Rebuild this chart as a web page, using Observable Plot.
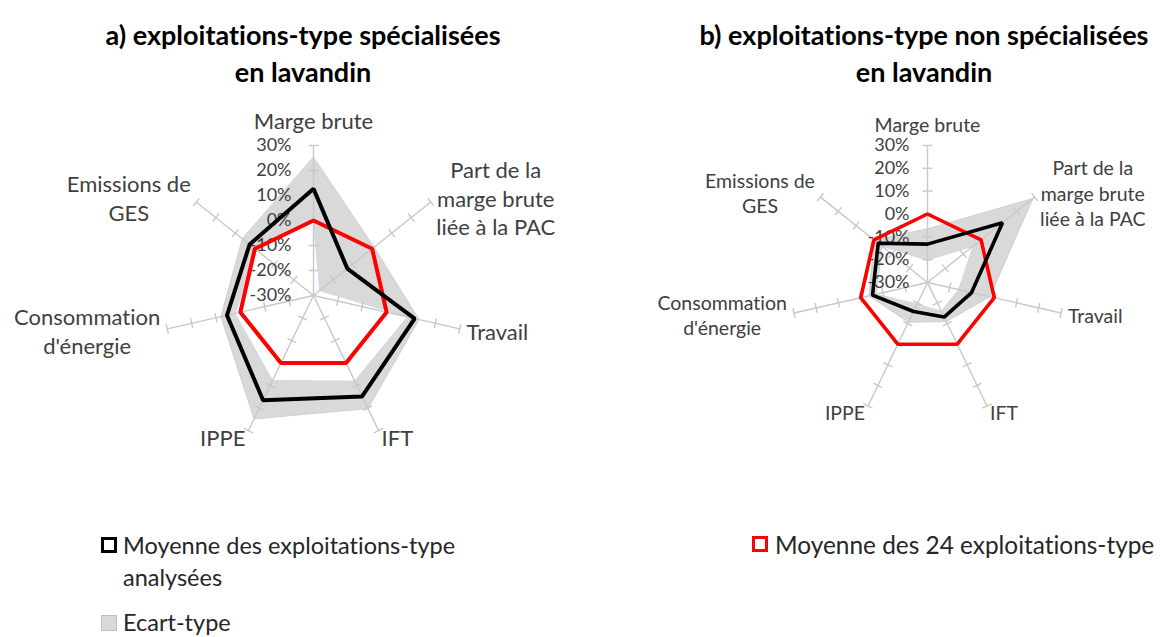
<!DOCTYPE html>
<html><head><meta charset="utf-8">
<script src="https://cdn.jsdelivr.net/npm/d3@7"></script>
<script src="https://cdn.jsdelivr.net/npm/@observablehq/plot@0.6"></script>
<style>
body{margin:0;background:#fff;}
#page{position:relative;width:1160px;height:637px;font-family:Lato,"Open Sans",sans-serif;color:#262626;overflow:hidden;font-variant-ligatures:none;}
.title{position:absolute;width:640px;text-align:center;font-weight:bold;font-size:27px;line-height:37px;color:#000;}
.chart{position:absolute;top:100px;}
.leg{position:absolute;font-size:24px;line-height:32px;color:#262626;white-space:nowrap;}
.sw{position:absolute;box-sizing:border-box;width:16px;height:16px;}
</style></head><body><div id="page"></div>
<script>
// ---- data ----
const categories = ["Marge brute", "Part de la\nmarge brute\nliée à la PAC", "Travail", "IFT", "IPPE", "Consommation\nd'énergie", "Emissions de\nGES"];
const tickValues = [-30, -20, -10, 0, 10, 20, 30];
const tickLabels = ["-30%", "-20%", "-10%", "0%", "10%", "20%", "30%"];
// a) spécialisées
const meanA  = [12.7, -12.7, 11.5, 14.8, 16.5, 5.5, 2.7];
const upperA = [25.3, 1.0, 13.3, 20.2, 24.8, 8.0, 6.4];
const lowerA = [0.0, -26.8, 8.5, 8.0, 7.8, 2.2, -1.0];
// b) non spécialisées
const meanB  = [-13.2, 12.0, -10.2, -13.2, -15.9, -5.3, -2.4];
const upperB = [-6.5, 29.0, -2.0, -11.0, -10.7, -3.7, -0.2];
const lowerB = [-20.2, -4.5, -16.0, -16.0, -19.5, -7.0, -4.6];
// reference: moyenne des 24 exploitations-type
const refAll = [0, 0, 0, 0, 0, 0, 0];

const titleA = "a) exploitations-type spécialisées\nen lavandin";
const titleB = "b) exploitations-type non spécialisées\nen lavandin";
const legendMean = "Moyenne des exploitations-type\nanalysées";
const legendSd = "Ecart-type";
const legendRef = "Moyenne des 24 exploitations-type";

const FONT = "Lato";
const canvas = document.createElement("canvas");
const ctx = canvas.getContext("2d");
function textWidth(s, size) {
  ctx.font = `${size}px ${FONT}`;
  return d3.max(s.split("\n"), l => ctx.measureText(l).width);
}

function radar(o) {
  const n = categories.length;
  const rMin = d3.min(tickValues), rMax = d3.max(tickValues);
  const ang = i => i * 2 * Math.PI / n;
  const px = (v, i) => (v - rMin) * Math.sin(ang(i));
  const py = (v, i) => (v - rMin) * Math.cos(ang(i));
  const poly = vals => vals.map((v, i) => ({x: px(v, i), y: py(v, i)}));
  const k = o.k;
  const axes = categories.map((c, i) => ({x1: 0, y1: 0, x2: px(rMax, i), y2: py(rMax, i)}));
  const half = o.tickHalf / k;
  const tks = [];
  categories.forEach((c, i) => {
    const a = ang(i), cxp = Math.cos(a), syp = -Math.sin(a);
    tickValues.filter(t => t > rMin).forEach(t => {
      const x = px(t, i), y = py(t, i);
      tks.push({x1: x - half * cxp, y1: y - half * syp, x2: x + half * cxp, y2: y + half * syp});
    });
  });
  const labs = categories.map((c, i) => {
    const a = ang(i), s = Math.sin(a);
    const top = Math.abs(s) < 0.1;
    const pad = (top ? o.topPad : o.labPad) / k;
    const r = rMax - rMin + pad;
    const w = textWidth(c, o.fs);
    return {x: r * s, y: r * Math.cos(a), text: c,
            dx: top ? 0 : (s > 0 ? w / 2 : -w / 2)};
  });
  const tickData = tickValues.map((t, j) => ({x: 0, y: t - rMin, text: tickLabels[j]}));
  return Plot.plot({
    width: o.w, height: o.h, margin: 0,
    style: {fontFamily: FONT, background: "transparent", overflow: "visible"},
    x: {domain: [-o.cx / k, (o.w - o.cx) / k], axis: null},
    y: {domain: [-(o.h - o.cy) / k, o.cy / k], axis: null},
    marks: [
      Plot.line(poly(o.upper), {x: "x", y: "y", curve: "linear-closed", fill: "#d9d9d9", stroke: "#cfcfcf", strokeWidth: 1}),
      Plot.line(poly(o.lower), {x: "x", y: "y", curve: "linear-closed", fill: "#ffffff", stroke: "#c6d9f0", strokeWidth: 1}),
      Plot.link(axes, {x1: "x1", y1: "y1", x2: "x2", y2: "y2", stroke: "#c8c8c8", strokeWidth: 1.4}),
      Plot.link(tks, {x1: "x1", y1: "y1", x2: "x2", y2: "y2", stroke: "#c8c8c8", strokeWidth: 1.4}),
      Plot.text(tickData, {x: "x", y: "y", text: "text", textAnchor: "end", dx: o.tickDx, fontSize: o.tfs, fill: "#404040"}),
      ...labs.map(l => Plot.text([l], {x: "x", y: "y", text: "text", dx: l.dx, textAnchor: "middle", lineAnchor: "middle", lineHeight: o.lh, fontSize: o.fs, fill: "#404040"})),
      Plot.line(poly(o.ref), {x: "x", y: "y", curve: "linear-closed", stroke: "#ff0000", strokeWidth: o.sw, strokeLinejoin: "miter"}),
      Plot.line(poly(o.mean), {x: "x", y: "y", curve: "linear-closed", stroke: "#000000", strokeWidth: o.sw, strokeLinejoin: "miter"})
    ]
  });
}

const page = document.getElementById("page");
function addTitle(text, center) {
  const d = document.createElement("div");
  d.className = "title";
  d.style.left = (center - 320) + "px";
  d.style.top = "16px";
  d.innerHTML = text.split("\n").join("<br>");
  page.appendChild(d);
}
addTitle(titleA, 303);
addTitle(titleB, 924);

const cA = radar({mean: meanA, upper: upperA, lower: lowerA, ref: refAll, k: 150 / 60,
  cx: 313, cy: 195, w: 580, h: 380, fs: 22, tfs: 18, lh: 1.3, tickDx: -22, tickHalf: 5, labPad: 7, topPad: 26, sw: 4});
cA.classList.add("chart"); cA.style.left = "0px";
page.appendChild(cA);
const cB = radar({mean: meanB, upper: upperB, lower: lowerB, ref: refAll, k: 137 / 60,
  cx: 347, cy: 182, w: 580, h: 380, fs: 19.5, tfs: 18, lh: 1.3, tickDx: -18, tickHalf: 5, labPad: 7, topPad: 22, sw: 3.6});
cB.classList.add("chart"); cB.style.left = "580px";
page.appendChild(cB);

function addLegend(swLeft, swTop, swStyle, text, textLeft, textTop, size) {
  const s = document.createElement("div");
  s.className = "sw";
  s.style.left = swLeft + "px"; s.style.top = swTop + "px";
  Object.assign(s.style, swStyle);
  page.appendChild(s);
  const t = document.createElement("div");
  t.className = "leg";
  t.style.left = textLeft + "px"; t.style.top = textTop + "px";
  t.style.fontSize = size + "px";
  t.innerHTML = text.split("\n").join("<br>");
  page.appendChild(t);
}
addLegend(101, 537, {border: "3px solid #000"}, legendMean, 123, 529, 23.5);
addLegend(101, 615, {border: "1px solid #bfbfbf", background: "#d9d9d9"}, legendSd, 123, 606, 23.5);
addLegend(752, 536, {border: "3px solid #ff0000"}, legendRef, 775, 529, 24.4);
</script>
</body></html>
